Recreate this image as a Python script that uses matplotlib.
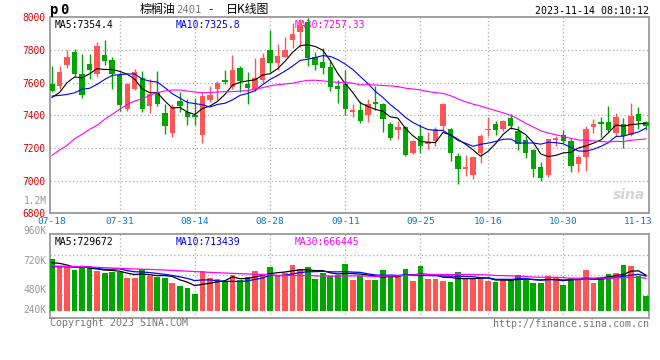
import numpy as np
import pandas as pd
import matplotlib
matplotlib.use('Agg')
import matplotlib.pyplot as plt

# daily K-line of palm oil 2401, 2023-07-18 .. 2023-11-14
opens = [7595, 7578, 7710, 7790, 7653, 7715, 7652, 7770, 7738, 7650,
         7438, 7563, 7630, 7457, 7543, 7412, 7294, 7488, 7422, 7405,
         7278, 7496, 7564, 7615, 7575, 7688, 7594, 7560, 7614, 7800,
         7722, 7759, 7861, 7912, 7972, 7758, 7728, 7698, 7580, 7592,
         7418, 7435, 7405, 7482, 7470, 7348, 7308, 7328, 7172, 7275,
         7225, 7240, 7332, 7315, 7148, 7072, 7035, 7172, 7308, 7350,
         7316, 7383, 7305, 7248, 7185, 7082, 7035, 7248, 7282, 7240,
         7102, 7142, 7326, 7362, 7362, 7290, 7348, 7278, 7410, 7358]
closes = [7552, 7665, 7757, 7653, 7522, 7676, 7823, 7730, 7653, 7465,
          7590, 7667, 7438, 7533, 7467, 7335, 7451, 7457, 7390, 7392,
          7520, 7527, 7596, 7605, 7675, 7610, 7570, 7627, 7751, 7718,
          7763, 7800, 7898, 7953, 7750, 7708, 7690, 7576, 7560, 7440,
          7435, 7368, 7470, 7472, 7380, 7263, 7330, 7157, 7245, 7210,
          7235, 7318, 7470, 7168, 7074, 7085, 7145, 7276, 7318, 7313,
          7365, 7336, 7224, 7170, 7074, 7014, 7255, 7262, 7245, 7092,
          7147, 7316, 7348, 7344, 7310, 7388, 7275, 7398, 7366, 7332]
highs = [7700, 7700, 7798, 7805, 7775, 7775, 7848, 7860, 7755, 7665,
         7600, 7682, 7672, 7620, 7672, 7467, 7467, 7540, 7498, 7508,
         7545, 7578, 7608, 7678, 7771, 7702, 7665, 7752, 7782, 7922,
         7835, 7882, 7963, 7990, 7995, 7790, 7810, 7730, 7616, 7678,
         7470, 7485, 7502, 7578, 7476, 7360, 7368, 7333, 7252, 7350,
         7300, 7330, 7475, 7325, 7170, 7158, 7150, 7285, 7392, 7366,
         7372, 7408, 7334, 7272, 7192, 7113, 7258, 7272, 7312, 7255,
         7158, 7332, 7378, 7388, 7460, 7412, 7382, 7475, 7450, 7365]
lows = [7540, 7562, 7688, 7640, 7505, 7620, 7637, 7710, 7562, 7425,
        7427, 7555, 7420, 7415, 7455, 7284, 7267, 7420, 7340, 7340,
        7230, 7480, 7494, 7590, 7560, 7545, 7470, 7548, 7596, 7665,
        7676, 7755, 7815, 7820, 7705, 7678, 7652, 7549, 7475, 7402,
        7390, 7352, 7358, 7435, 7296, 7250, 7258, 7150, 7165, 7172,
        7195, 7210, 7312, 7122, 6980, 7030, 7008, 7110, 7275, 7278,
        7305, 7315, 7187, 7137, 7020, 7000, 7022, 7215, 7230, 7050,
        7055, 7060, 7292, 7267, 7300, 7272, 7203, 7272, 7315, 7310]
volumes_k = [1065, 906, 894, 838, 873, 873, 818, 783, 803, 791,
             674, 674, 853, 715, 700, 680, 577, 509, 474, 344,
             818, 680, 653, 597, 735, 632, 700, 818, 756, 906,
             735, 770, 941, 859, 906, 653, 770, 721, 735, 962,
             632, 721, 632, 632, 838, 700, 688, 859, 612, 921,
             653, 653, 612, 591, 797, 653, 653, 653, 612, 591,
             653, 632, 735, 632, 577, 577, 715, 694, 529, 674,
             632, 838, 577, 674, 756, 777, 941, 921, 715, 303]

# moving averages at the start of the window (history before 07-18)
ma5_lead = [7510, 7540, 7600, 7635]
ma10_lead = [7518, 7522, 7528, 7538, 7560, 7566, 7590, 7620, 7645]
ma30_lead = [7155, 7188, 7216, 7257, 7284, 7314, 7339, 7376, 7406, 7437,
             7467, 7488, 7502, 7522, 7539, 7549, 7555, 7555, 7549, 7543,
             7539, 7539, 7543, 7545, 7545, 7549, 7551, 7561, 7569]
vma5_lead = [989, 976, 941, 894]
vma10_lead = [906, 906, 906, 894, 894, 906, 873, 853, 853]
vma30_lead = [921, 918, 915, 912, 908, 900, 893, 886, 880, 873,
              866, 860, 855, 850, 845, 838, 830, 822, 815, 806,
              798, 790, 783, 776, 770, 764, 758, 752, 748]

date_idx = [0, 9, 19, 29, 39, 49, 58, 68, 78]
date_labels = ['07-18', '07-31', '08-14', '08-28', '09-11', '09-25', '10-16', '10-30', '11-13']
price_ticks = [6800, 7000, 7200, 7400, 7600, 7800, 8000]


def moving(values, n, lead):
    m = pd.Series(values, dtype=float).rolling(n).mean().to_numpy()
    m[:n - 1] = lead
    return m


x = np.arange(len(closes))
o = np.array(opens, float)
c = np.array(closes, float)
vol = np.array(volumes_k, float) * 1000

RED = '#ff5555'
GREEN = '#00a600'
colors = [RED if cc >= oo else GREEN for oo, cc in zip(o, c)]
W, H = 660, 360
mono = 'DejaVu Sans Mono'
cjk = ['Noto Sans CJK SC', 'DejaVu Sans']

fig = plt.figure(figsize=(W / 100, H / 100), dpi=100)
ax1 = fig.add_axes([50 / W, (H - 213.3) / H, 599 / W, (213.3 - 17.4) / H])
ax2 = fig.add_axes([50 / W, (H - 318) / H, 599 / W, 84 / H])

for ax in (ax1, ax2):
    ax.set_xlim(-0.27, 79.4)
    for s in ax.spines.values():
        s.set_color('#9a9a9a')
        s.set_linewidth(1.3)
    for i in date_idx[1:-1]:
        ax.axvline(i, color='#aaaaaa', lw=0.9, ls=(0, (1, 2)), zorder=0)

# price panel
ax1.set_ylim(6800, 8000)
for p in price_ticks[1:-1]:
    ax1.axhline(p, color='#aaaaaa', lw=0.9, ls=(0, (1, 2)), zorder=0)
ax1.vlines(x, lows, highs, colors=colors, lw=1.0, zorder=3)
ax1.bar(x, np.maximum(np.abs(c - o), 6), bottom=np.minimum(o, c), width=0.72,
        color=colors, zorder=4)
ax1.plot(x, moving(closes, 5, ma5_lead), color='black', lw=0.8, zorder=5)
ax1.plot(x, moving(closes, 10, ma10_lead), color='#0000ff', lw=0.8, zorder=5)
ax1.plot(x, moving(closes, 30, ma30_lead), color='#ff00ff', lw=0.8, zorder=5)
ax1.set_yticks(price_ticks)
ax1.set_yticklabels([str(p) for p in price_ticks], family=mono, fontsize=6.9, color='#e00000')
ax1.tick_params(axis='y', length=0, pad=3.5)
ax1.set_xticks(date_idx)
ax1.set_xticklabels(date_labels, family=mono, fontsize=6.8, color='#0a78cc')
ax1.tick_params(axis='x', length=0, pad=2.5)

ax1.text(0.008, 0.985, 'MA5:7354.4', transform=ax1.transAxes, family=mono, fontsize=7,
         color='black', va='top', zorder=1)
ax1.text(0.209, 0.985, 'MA10:7325.8', transform=ax1.transAxes, family=mono, fontsize=7,
         color='#0000ff', va='top', zorder=1)
ax1.text(0.409, 0.985, 'MA30:7257.33', transform=ax1.transAxes, family=mono, fontsize=7,
         color='#ff00ff', va='top', zorder=1)
ax1.text(0.993, 0.06, 'sina', transform=ax1.transAxes, fontsize=10, style='italic',
         weight='bold', color='#d4d4d4', ha='right', va='bottom', zorder=2)

# volume panel
ax2.set_ylim(-150e3, 1580e3)
for v in (323e3, 735e3, 1147e3):
    ax2.axhline(v, color='#aaaaaa', lw=0.9, ls=(0, (1, 2)), zorder=0)
ax2.bar(x, vol, width=0.76, color=colors, zorder=3)
ax2.plot(x, moving(vol, 5, np.array(vma5_lead) * 1000), color='black', lw=0.9, zorder=4)
ax2.plot(x, moving(vol, 10, np.array(vma10_lead) * 1000), color='#0000ff', lw=0.9, zorder=4)
ax2.plot(x, moving(vol, 30, np.array(vma30_lead) * 1000), color='#ff00ff', lw=0.9, zorder=4)
ax2.set_xticks([])
ax2.set_yticks([])
ax2.text(0.008, 0.97, 'MA5:729672', transform=ax2.transAxes, family=mono, fontsize=7,
         color='black', va='top')
ax2.text(0.209, 0.97, 'MA10:713439', transform=ax2.transAxes, family=mono, fontsize=7,
         color='#0000ff', va='top')
ax2.text(0.409, 0.97, 'MA30:666445', transform=ax2.transAxes, family=mono, fontsize=7,
         color='#ff00ff', va='top')

# labels placed around the panels
def ftext(px, py, s, **kw):
    fig.text(px / W, 1 - py / H, s, **kw)

for lab, py in [('960K', 231), ('720K', 261), ('480K', 290), ('240K', 310), ('1.2M', 201)]:
    ftext(46.5, py, lab, family=mono, fontsize=6.9, color='#999999', ha='right', va='center')

ftext(50.5, 10, 'p', family=mono, fontsize=10, weight='bold', color='black', va='center')
ftext(60.5, 9.5, '0', family=mono, fontsize=10, weight='bold', color='black', va='center')
ftext(140, 9.5, '棕榈油', family=cjk, fontsize=8.6, color='black', va='center')
ftext(176.5, 10, '2401', family=mono, fontsize=7.6, color='#777777', va='center')
ftext(207, 9.5, '-', family=mono, fontsize=8, color='black', va='center')
ftext(226, 9.5, '日K线图', family=cjk, fontsize=8.6, color='black', va='center')
ftext(649, 11.5, '2023-11-14 08:10:12', family=mono, fontsize=7.2, color='black',
      ha='right', va='center')
ftext(50, 323.5, 'Copyright 2023 SINA.COM', family=mono, fontsize=7.2, color='#777777',
      va='center')
ftext(649, 324, 'http://finance.sina.com.cn', family=mono, fontsize=7.2, color='#777777',
      ha='right', va='center')

fig.savefig('out.png', dpi=100, facecolor='white')
